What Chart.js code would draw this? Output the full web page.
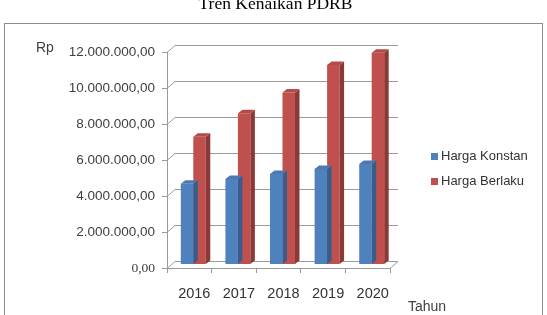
<!DOCTYPE html>
<html>
<head>
<meta charset="utf-8">
<script src="https://cdn.jsdelivr.net/npm/chart.js"></script>
<style>
  html, body { margin: 0; padding: 0; background: #fff; }
</style>
</head>
<body>
<canvas id="pdrbChart" width="547" height="315"></canvas>
<script>
// data (rupiah)
const years = ['2016', '2017', '2018', '2019', '2020'];
const hargaKonstan = [4480000, 4750000, 5030000, 5300000, 5580000];
const hargaBerlaku = [7100000, 8400000, 9560000, 11080000, 11760000];
const yMax = 12000000;
const yStep = 2000000;

const WALL = { x: 8, y: -7 };     // depth of the back wall
const BAR = { x: 4.5, y: -3.5 };  // depth of each bar
const SHIFT = { x: 4, y: -3.5 };  // bars sit halfway into the floor

function rupiah(v) {
    const whole = Math.round(v).toString().replace(/\B(?=(\d{3})+(?!\d))/g, '.');
    return whole + ',00';
}

// back wall grid + floor, drawn before the bars
const wallPlugin = {
    id: 'wall',
    beforeDatasetsDraw(chart) {
        const { ctx, chartArea: a, scales } = chart;
        ctx.save();
        ctx.strokeStyle = '#9a9a9a';
        ctx.lineWidth = 1;
        scales.y.ticks.forEach(t => {
            const y = Math.round(scales.y.getPixelForValue(t.value)) + 0.5;
            ctx.beginPath();
            ctx.moveTo(a.left, y);
            ctx.lineTo(a.left + WALL.x, y + WALL.y);
            ctx.lineTo(a.right + WALL.x, y + WALL.y);
            ctx.stroke();
        });
        // floor right edge
        const yb = Math.round(a.bottom) + 0.5;
        ctx.beginPath();
        ctx.moveTo(a.right, yb);
        ctx.lineTo(a.right + WALL.x, yb + WALL.y);
        ctx.stroke();
        ctx.restore();
        // shift bars into the middle of the floor
        ctx.save();
        ctx.translate(SHIFT.x, SHIFT.y);
    },
    afterDatasetsDraw(chart) {
        const ctx = chart.ctx;
        const shades = [
            { side: '#385d8a', top: '#4a79b3' },
            { side: '#8c3836', top: '#b54b48' }
        ];
        chart.data.datasets.forEach((ds, i) => {
            const meta = chart.getDatasetMeta(i);
            meta.data.forEach(bar => {
                const p = bar.getProps(['x', 'y', 'base', 'width'], true);
                const l = p.x - p.width / 2, r = p.x + p.width / 2;
                ctx.fillStyle = shades[i].side;
                ctx.beginPath();
                ctx.moveTo(r, p.y);
                ctx.lineTo(r + BAR.x, p.y + BAR.y);
                ctx.lineTo(r + BAR.x, p.base + BAR.y);
                ctx.lineTo(r, p.base);
                ctx.closePath();
                ctx.fill();
                ctx.fillStyle = shades[i].top;
                ctx.beginPath();
                ctx.moveTo(l, p.y);
                ctx.lineTo(l + BAR.x, p.y + BAR.y);
                ctx.lineTo(r + BAR.x, p.y + BAR.y);
                ctx.lineTo(r, p.y);
                ctx.closePath();
                ctx.fill();
            });
        });
        ctx.restore();
    }
};

// frame, caption, axis names and legend
const decorPlugin = {
    id: 'decor',
    afterDraw(chart) {
        const ctx = chart.ctx;
        ctx.save();
        ctx.strokeStyle = '#8c8c8c';
        ctx.lineWidth = 1;
        ctx.strokeRect(4.5, 23.5, 538, 320);

        ctx.fillStyle = '#000';
        ctx.font = '17.5px "Liberation Serif", "Times New Roman", serif';
        ctx.textAlign = 'center';
        ctx.textBaseline = 'alphabetic';
        ctx.fillText('Tren Kenaikan PDRB', 275.5, 8.5);

        ctx.fillStyle = '#404040';
        ctx.font = '14px "Liberation Sans", Arial, sans-serif';
        ctx.textAlign = 'left';
        ctx.textBaseline = 'middle';
        ctx.fillText('Rp', 36, 48);
        ctx.fillText('Tahun', 408, 307);

        ctx.font = '13px "Liberation Sans", Arial, sans-serif';
        chart.data.datasets.forEach((ds, i) => {
            const y = 156.5 + i * 25;
            ctx.fillStyle = ds.backgroundColor;
            ctx.fillRect(431, y - 3.5, 7, 7);
            ctx.fillStyle = '#333';
            ctx.fillText(ds.label, 441, y);
        });
        ctx.restore();
    }
};

new Chart(document.getElementById('pdrbChart'), {
    type: 'bar',
    data: {
        labels: years,
        datasets: [
            { label: 'Harga Konstan', data: hargaKonstan, backgroundColor: '#4f81bd' },
            { label: 'Harga Berlaku', data: hargaBerlaku, backgroundColor: '#c0504d' }
        ]
    },
    options: {
        responsive: false,
        animation: false,
        layout: { padding: { left: 0, top: 52, right: 157, bottom: 0 } },
        datasets: { bar: { categoryPercentage: 0.56, barPercentage: 1 } },
        plugins: { legend: { display: false }, tooltip: { enabled: false } },
        scales: {
            x: {
                afterFit: s => { s.height = 47; },
                grid: { offset: true, drawOnChartArea: false, tickLength: 5, color: '#9a9a9a' },
                border: { display: true, color: '#9a9a9a' },
                ticks: {
                    labelOffset: 5,
                    padding: 12,
                    color: '#333',
                    font: { family: '"Liberation Sans", Arial, sans-serif', size: 14.5 }
                }
            },
            y: {
                min: 0,
                max: yMax,
                afterFit: s => { s.width = 167; },
                grid: { drawOnChartArea: false, tickLength: 5, color: '#9a9a9a' },
                border: { display: true, color: '#9a9a9a' },
                ticks: {
                    stepSize: yStep,
                    padding: 7,
                    color: '#404040',
                    callback: v => rupiah(v),
                    font: ctx => (ctx.tick && ctx.tick.value === 0)
                        ? { family: '"Liberation Serif", "Times New Roman", serif', size: 13.5 }
                        : { family: '"Liberation Sans", Arial, sans-serif', size: 13.5 }
                }
            }
        }
    },
    plugins: [wallPlugin, decorPlugin]
});
</script>
</body>
</html>
